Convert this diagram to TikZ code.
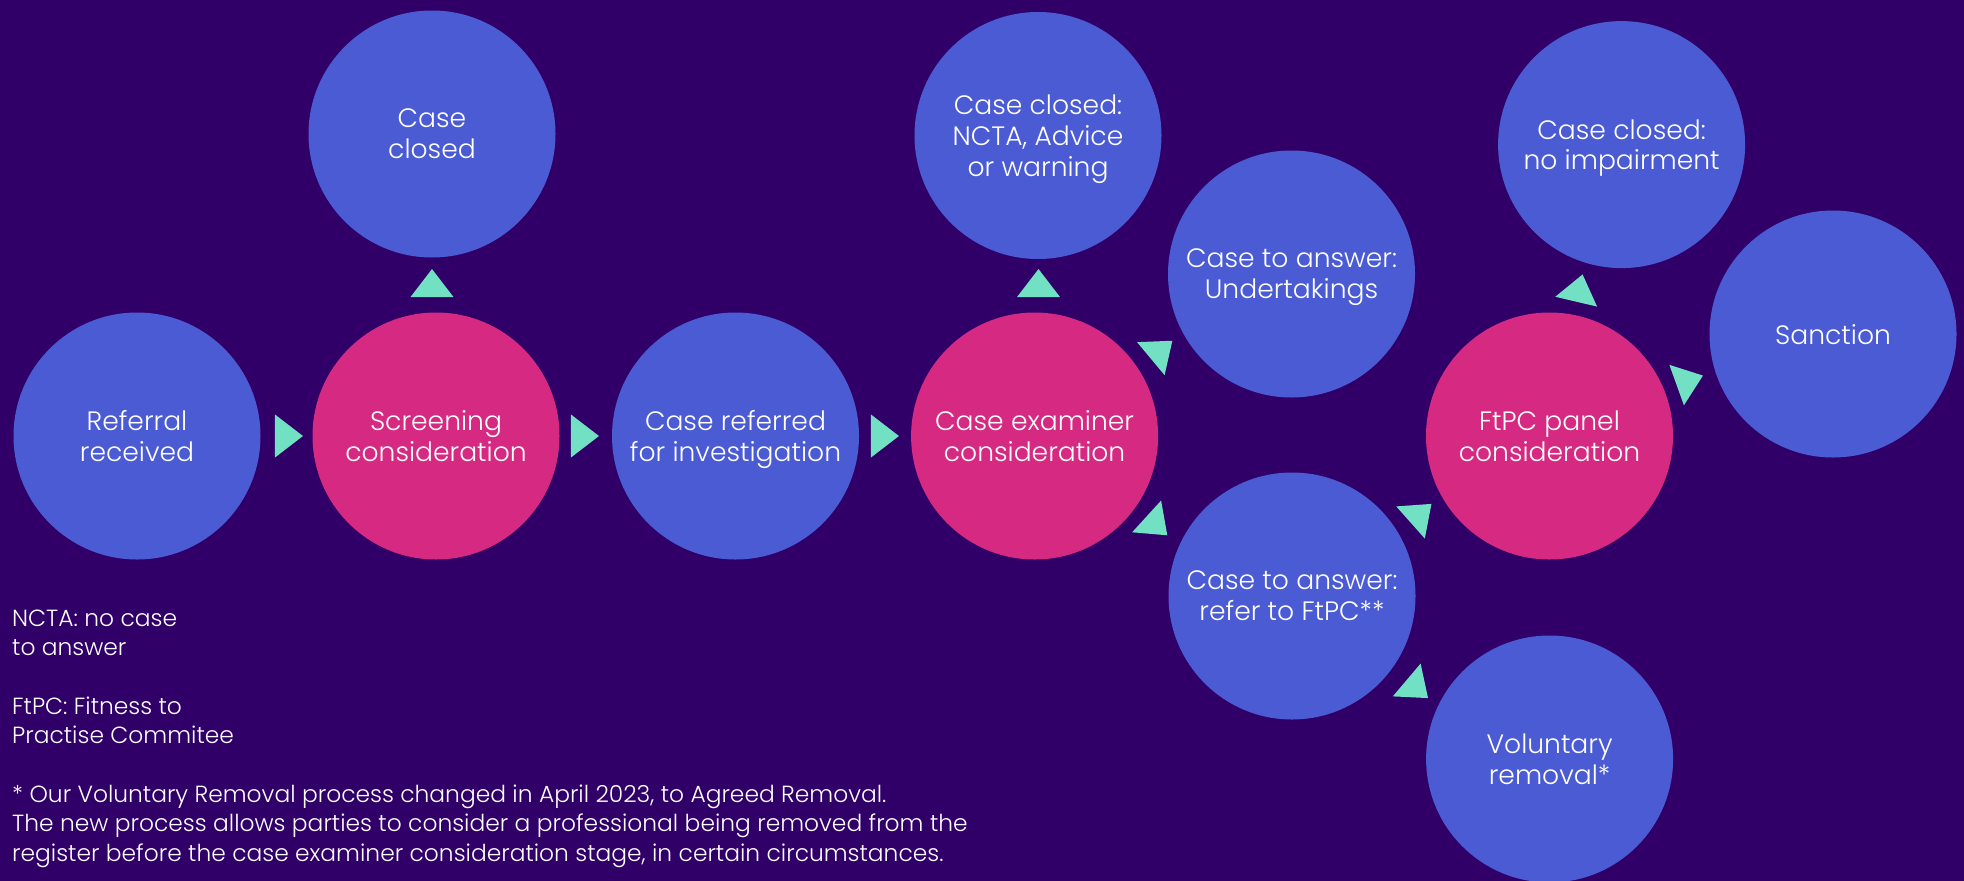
\documentclass[tikz,border=0pt]{standalone}
\usepackage{fontspec}
\IfFontExistsTF{Poppins Light}{\setmainfont{Poppins Light}}{\setmainfont{Poppins}}
\definecolor{bg}{HTML}{300068}
\definecolor{cblue}{HTML}{4A5BD4}
\definecolor{cpink}{HTML}{D62A82}
\definecolor{cteal}{HTML}{72E0C2}
\begin{document}
\begin{tikzpicture}[x=1bp,y=-1bp,
  stage/.style={circle, minimum size=247bp, inner sep=0pt, text=white, align=center,
    text depth=0pt, font=\fontsize{26.7}{31}\selectfont},
  bluestage/.style={stage, fill=cblue},
  pinkstage/.style={stage, fill=cpink},
  flowtri/.pic={\fill[cteal] (18.67,0) -- (-9.33,21.5) -- (-9.33,-21.5) -- cycle;},
  notes/.style={anchor=west, text=white, align=left, inner sep=0pt,
    font=\fontsize{23.45}{29.46}\selectfont}
]
\useasboundingbox (0,0) rectangle (1964,881);
\fill[bg] (0,0) rectangle (1964,881);

\node[bluestage] (ref) at (137,436) {Referral\\received};
\node[pinkstage] (scr) at (436,436) {Screening\\consideration};
\node[bluestage] (cc1) at (432,134) {Case\\closed};
\node[bluestage] (cri) at (735.5,436) {Case referred\\for investigation};
\node[pinkstage] (cex) at (1034.6,436) {Case examiner\\consideration};
\node[bluestage] (cc2) at (1038,135.5) {Case closed:\\NCTA, Advice\\or warning};
\node[bluestage] (und) at (1291.5,274) {Case to answer:\\Undertakings};
\node[bluestage] (rft) at (1292,596) {Case to answer:\\refer to FtPC**};
\node[bluestage] (vol) at (1549.6,759) {Voluntary\\removal*};
\node[pinkstage] (ftp) at (1549.5,436) {FtPC panel\\consideration};
\node[bluestage] (cc3) at (1621.6,144.6) {Case closed:\\no impairment};
\node[bluestage] (san) at (1833,334) {Sanction};

\pic[rotate=0] at (284.3,436) {flowtri};
\pic[rotate=90] at (432,287.7) {flowtri};
\pic[rotate=0] at (580.3,436) {flowtri};
\pic[rotate=0] at (880.3,436) {flowtri};
\pic[rotate=90] at (1038.5,287.7) {flowtri};
\pic[rotate=39.8] at (1158,352.7) {flowtri};
\pic[rotate=-42.4] at (1153.5,522.7) {flowtri};
\pic[rotate=41.6] at (1417.5,516.3) {flowtri};
\pic[rotate=-40.3] at (1413.8,686) {flowtri};
\pic[rotate=76.8] at (1578.3,292.6) {flowtri};
\pic[rotate=19.8] at (1685.4,381.9) {flowtri};

\node[notes] (legend) at (12,738.5) {NCTA: no case\\to answer\\[29.46pt]FtPC: Fitness to\\Practise Commitee\\[29.46pt]* Our Voluntary Removal process changed in April 2023, to Agreed Removal.\\The new process allows parties to consider a professional being removed from the\\register before the case examiner consideration stage, in certain circumstances.};
\end{tikzpicture}
\end{document}
